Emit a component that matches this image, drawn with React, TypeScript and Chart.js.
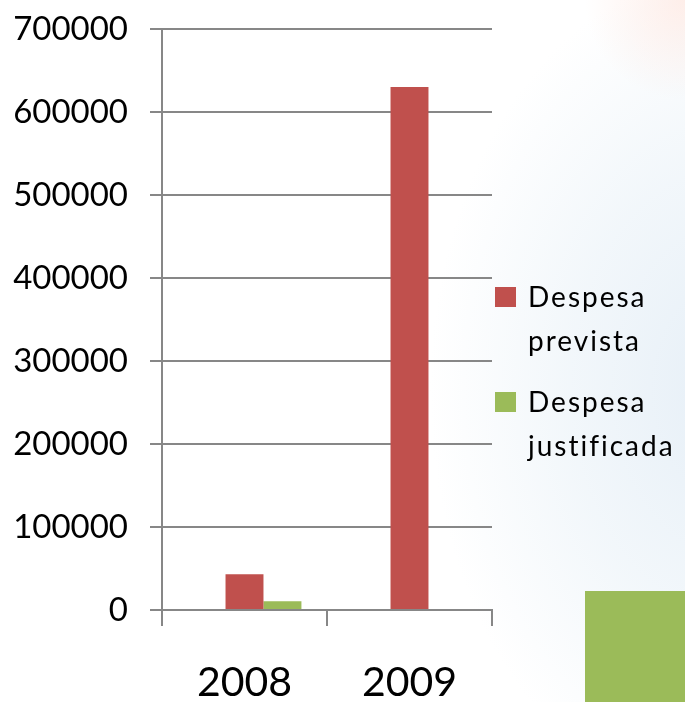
import React, { useEffect, useRef } from "react";
import { Chart, registerables } from "chart.js";

Chart.register(...registerables);

const categories = ["2008", "2009"];
const despesaPrevista = [43000, 630000];
const despesaJustificada = [10500, 0];
const spacerSeries: (number | null)[] = [null, null];
const legendLabels = [["Despesa", "prevista"], ["Despesa", "justificada"]];
const yMin = 0;
const yMax = 700000;
const yStep = 100000;

const RED = "#c0504d";
const GREEN = "#9bbb59";
const GRID = "#878787";

export default function App() {
  const canvasRef = useRef<HTMLCanvasElement | null>(null);

  useEffect(() => {
    if (!canvasRef.current) return;
    const chart = new Chart(canvasRef.current, {
      type: "bar",
      data: {
        labels: categories,
        datasets: [
          { label: "", data: spacerSeries, backgroundColor: "rgba(0,0,0,0)" },
          { label: "Despesa prevista", data: despesaPrevista, backgroundColor: RED },
          { label: "Despesa justificada", data: despesaJustificada, backgroundColor: GREEN },
        ],
      },
      options: {
        animation: false,
        responsive: false,
        maintainAspectRatio: false,
        datasets: { bar: { categoryPercentage: 0.69, barPercentage: 1.0, borderWidth: 0 } },
        layout: { padding: { top: 29, right: 193, left: 0, bottom: 0 } },
        plugins: { legend: { display: false }, tooltip: { enabled: false } },
        scales: {
          x: {
            offset: true,
            grid: {
              offset: true,
              drawOnChartArea: false,
              drawTicks: true,
              tickLength: 16,
              color: GRID,
              lineWidth: 2,
            },
            border: { display: true, color: GRID, width: 2 },
            ticks: {
              color: "#000",
              font: { family: "Lato", size: 41 },
              padding: 32,
              maxRotation: 0,
            },
            afterFit: (scale: any) => {
              scale.height = 92;
            },
          },
          y: {
            min: yMin,
            max: yMax,
            grid: { color: GRID, lineWidth: 2, tickLength: 12, drawTicks: true },
            border: { display: true, color: GRID, width: 2 },
            ticks: {
              stepSize: yStep,
              color: "#000",
              font: { family: "Lato", size: 33 },
              padding: 22,
              callback: (v: any) => String(v),
            },
            afterFit: (scale: any) => {
              scale.width = 162;
              scale.paddingTop = 0;
              scale.paddingBottom = 0;
            },
          },
        },
      },
    });
    return () => chart.destroy();
  }, []);

  const legendColors = [RED, GREEN];
  const legendTops = [274, 379];

  return (
    <div
      style={{
        position: "absolute",
        left: 0,
        top: 0,
        width: 685,
        height: 702,
        overflow: "hidden",
        background:
          "radial-gradient(circle at 100% 0%, rgba(255,222,212,0.5) 0px, rgba(255,255,255,0) 100px), radial-gradient(ellipse 300px 420px at 730px 390px, #e6eff7 0%, rgba(234,242,248,0.6) 55%, rgba(255,255,255,0) 100%), #ffffff",
      }}
    >
      <div
        style={{
          position: "absolute",
          left: 585,
          top: 591,
          width: 100,
          height: 111,
          background: GREEN,
        }}
      />
      <canvas
        ref={canvasRef}
        width={685}
        height={702}
        style={{ position: "absolute", left: 0, top: 0, width: 685, height: 702 }}
      />
      {legendLabels.map((lines, i) => (
        <React.Fragment key={i}>
          <div
            style={{
              position: "absolute",
              left: 495,
              top: legendTops[i] + 13,
              width: 21,
              height: 20,
              background: legendColors[i],
            }}
          />
          <div
            style={{
              position: "absolute",
              left: 528,
              top: legendTops[i],
              fontFamily: "Lato",
              fontSize: 28,
              lineHeight: "44px",
              letterSpacing: "2px",
              color: "#000",
              whiteSpace: "nowrap",
            }}
          >
            {lines.map((l, j) => (
              <div key={j}>{l}</div>
            ))}
          </div>
        </React.Fragment>
      ))}
    </div>
  );
}
